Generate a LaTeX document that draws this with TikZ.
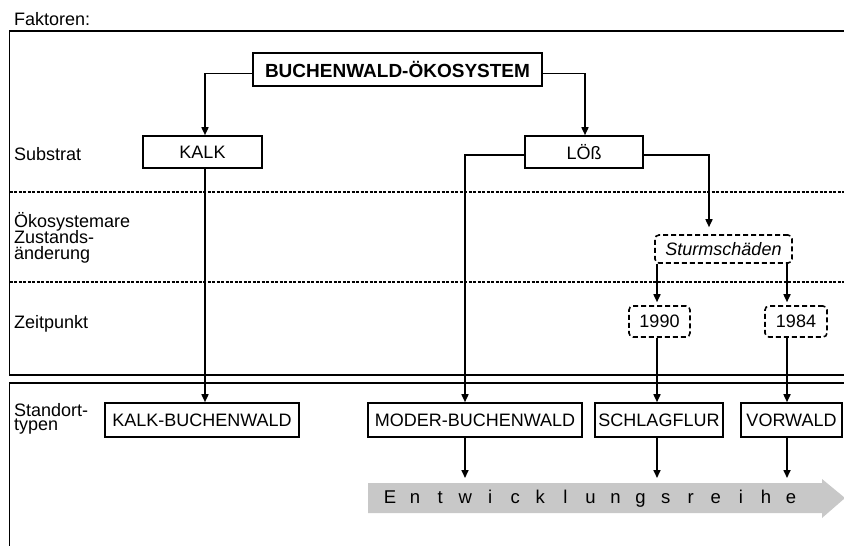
\documentclass[tikz,border=0pt]{standalone}
\usepackage{fontspec}
\setmainfont{Liberation Sans}
\usetikzlibrary{arrows.meta}
\definecolor{ergrey}{RGB}{200,200,200}
\begin{document}
\begin{tikzpicture}[x=1pt,y=-1pt,
  every node/.style={font=\fontsize{18}{20}\selectfont, inner sep=0pt},
  box/.style={draw, line width=1.6pt, minimum height=32pt},
  dbox/.style={draw, line width=1.6pt, rounded corners=4pt, dash pattern=on 5pt off 3pt},
  conn/.style={line width=1.6pt},
  arr/.style={conn, -{Triangle[length=8pt,width=7pt]}},
  frame/.style={line width=1.8pt},
  sep/.style={line width=1.3pt, dash pattern=on 3pt off 1.5pt},
  lbl/.style={anchor=base west},
  tight/.style={anchor=base west, text height=11pt, text depth=2pt}]
\useasboundingbox (0,0) rectangle (844,546);

% frames
\draw[frame] (844,31) -- (9.5,31) -- (9.5,375) -- (844,375);
\draw[frame] (844,383) -- (9.5,383) -- (9.5,546);
\draw[sep] (9.5,192) -- (844,192);
\draw[sep] (9.5,282) -- (844,282);

% grey arrow
\fill[ergrey] (368,483) -- (822,483) -- (822,479) -- (845,498) -- (822,518) -- (822,513) -- (368,513) -- cycle;
\foreach \l [count=\i from 0] in {E,n,t,w,i,c,k,l,u,n,g,s,r,e,i,h,e}
  \node[font=\fontsize{18.5}{20}\selectfont, anchor=base] (er\i) at (390+\i*25.06,503.5) {\l};
\coordinate (ertop) at (0,478);

% left labels
\node[lbl] (fak) at (14,25) {Faktoren:};
\node[lbl] (sub) at (14,160) {Substrat};
\node[tight] (oek1) at (14,227) {Ökosystemare};
\node[tight] (oek2) at (14,243) {Zustands-};
\node[tight] (oek3) at (14,259) {änderung};
\node[lbl] (zeit) at (14,328) {Zeitpunkt};
\node[tight] (st1) at (14,416.5) {Standort-};
\node[tight, text height=9pt] (st2) at (14,430) {typen};

% boxes
\node[box, minimum width=289pt, minimum height=33pt, font=\bfseries\fontsize{19}{21}\selectfont] (buch) at (397.5,69.5) {BUCHENWALD-ÖKOSYSTEM};
\node[box, minimum width=119pt] (kalk) at (202.5,152) {KALK};
\node[box, minimum width=118pt] (loess) at (584,152) {LÖß};
\node[dbox, minimum width=137pt, minimum height=28pt, font=\itshape\fontsize{18}{20}\selectfont] (sturm) at (723.5,249) {Sturmschäden};
\node[dbox, minimum width=61pt, minimum height=31pt] (y1990) at (659.5,321.5) {1990};
\node[dbox, minimum width=62pt, minimum height=31pt] (y1984) at (796,321.5) {1984};
\node[box, minimum width=194pt, minimum height=34pt] (kb) at (202,420) {KALK-BUCHENWALD};
\node[box, minimum width=214pt, minimum height=34pt] (mb) at (475,420) {MODER-BUCHENWALD};
\node[box, minimum width=128pt, minimum height=34pt] (sf) at (659,420) {SCHLAGFLUR};
\node[box, minimum width=101pt, minimum height=34pt] (vw) at (791.5,420) {VORWALD};

% x positions of vertical connectors
\coordinate (xk) at (205,0);
\coordinate (xl) at (585,0);
\coordinate (xm) at (465,0);
\coordinate (xs) at (709,0);
\coordinate (x90) at (657,0);
\coordinate (x84) at (787,0);

% connectors
\draw[arr] ([yshift=-4pt]buch.west) -| (kalk.north -| xk);
\draw[arr] ([yshift=-4pt]buch.east) -| (loess.north -| xl);
\draw[arr] ([yshift=-3pt]loess.west) -| (mb.north -| xm);
\draw[arr, shorten >=7pt] ([yshift=-3pt]loess.east) -| (sturm.north -| xs);
\draw[arr, shorten >=3pt] (sturm.south -| x90) -- (y1990.north -| x90);
\draw[arr, shorten >=3pt] (sturm.south -| x84) -- (y1984.north -| x84);
\draw[arr] (kalk.south -| xk) -- (kb.north -| xk);
\draw[arr] (y1990.south -| x90) -- (sf.north -| x90);
\draw[arr] (y1984.south -| x84) -- (vw.north -| x84);
\draw[arr] (mb.south -| xm) -- (ertop -| xm);
\draw[arr] (sf.south -| x90) -- (ertop -| x90);
\draw[arr] (vw.south -| x84) -- (ertop -| x84);
\end{tikzpicture}
\end{document}
